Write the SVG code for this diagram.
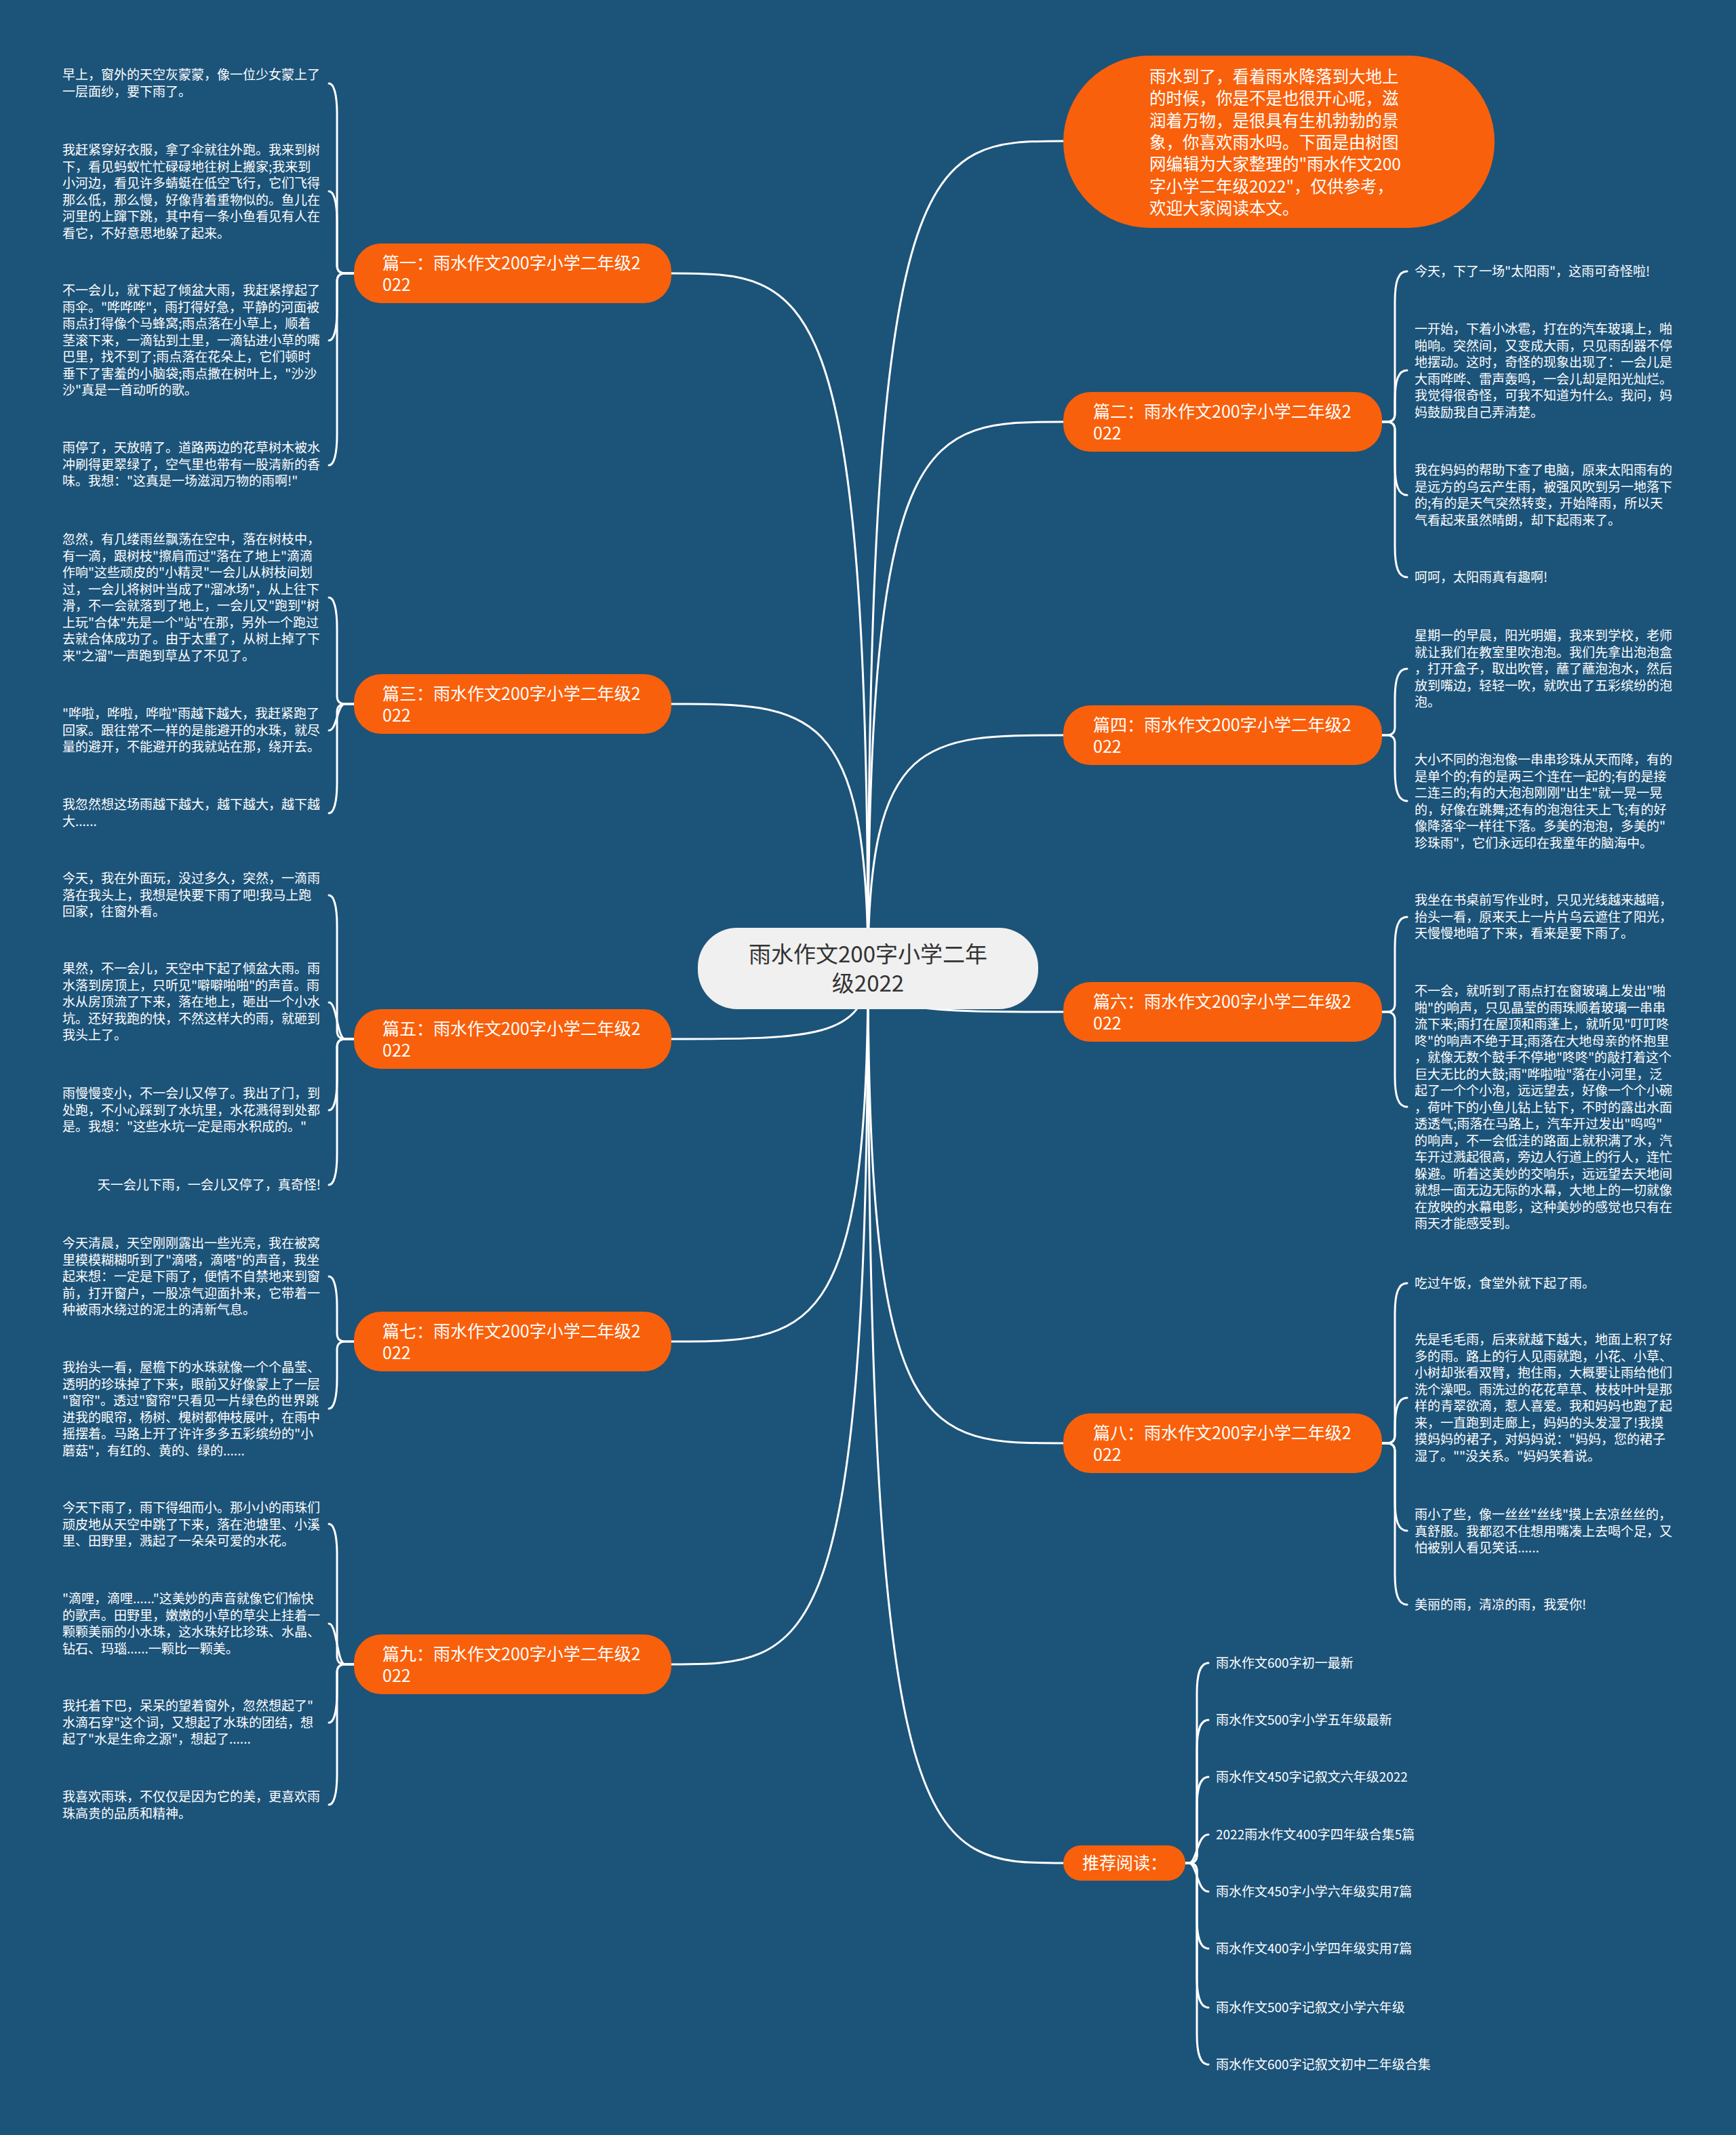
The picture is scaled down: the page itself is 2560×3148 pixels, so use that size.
<svg xmlns="http://www.w3.org/2000/svg" width="2560" height="3148" viewBox="0 0 2560 3148">
<style>
text{font-family:"Noto Sans CJK SC","Noto Sans",sans-serif;fill:#fff}
.lf{font-size:19px}
.br{font-size:25px}
.bub{font-size:24.5px}
.ctr{font-size:33px;fill:#333}
.e{fill:none;stroke:#fff;stroke-width:3;stroke-linecap:round}
.on{fill:#f9600b}
</style>
<rect width="2560" height="3148" fill="#1c5379"/>
<g id="connectors">
<path class="e" d="M1280,1428 C1280,403 1193,403 990,403"/>
<path class="e" d="M1280,1428 C1280,1038 1193,1038 990,1038"/>
<path class="e" d="M1280,1428 C1280,1532 1193,1532 990,1532"/>
<path class="e" d="M1280,1428 C1280,1978 1193,1978 990,1978"/>
<path class="e" d="M1280,1428 C1280,2454 1193,2454 990,2454"/>
<path class="e" d="M1280,1428 C1280,208 1366,208 1568,208"/>
<path class="e" d="M1280,1428 C1280,622 1366,622 1568,622"/>
<path class="e" d="M1280,1428 C1280,1084 1366,1084 1568,1084"/>
<path class="e" d="M1280,1428 C1280,1492 1366,1492 1568,1492"/>
<path class="e" d="M1280,1428 C1280,2128 1366,2128 1568,2128"/>
<path class="e" d="M1280,1428 C1280,2747 1366,2747 1568,2747"/>
<!-- 篇一 -->
<path class="e" d="M522,403 L509,403 Q497,403 497,391 L497,168 C497,138 492,123 485,123"/>
<path class="e" d="M522,403 L509,403 Q497,403 497,391 L497,327 C497,297 492,282 485,282"/>
<path class="e" d="M522,403 L509,403 Q497,403 497,415 L497,457 C497,487 492,502 485,502"/>
<path class="e" d="M522,403 L509,403 Q497,403 497,415 L497,641 C497,671 492,686 485,686"/>
<!-- 篇三 -->
<path class="e" d="M522,1038 L509,1038 Q497,1038 497,1026 L497,926 C497,896 492,881 485,881"/>
<path class="e" d="M522,1038 L509,1038 C497,1038 497,1077 485,1077"/>
<path class="e" d="M522,1038 L509,1038 Q497,1038 497,1050 L497,1154 C497,1184 492,1199 485,1199"/>
<!-- 篇五 -->
<path class="e" d="M522,1532 L509,1532 Q497,1532 497,1520 L497,1365 C497,1335 492,1320 485,1320"/>
<path class="e" d="M522,1532 L509,1532 C497,1532 497,1478 485,1478"/>
<path class="e" d="M522,1532 L509,1532 Q497,1532 497,1544 L497,1592 C497,1622 492,1637 485,1637"/>
<path class="e" d="M522,1532 L509,1532 Q497,1532 497,1544 L497,1702 C497,1732 492,1747 485,1747"/>
<!-- 篇七 -->
<path class="e" d="M522,1978 L509,1978 Q497,1978 497,1966 L497,1927 C497,1897 492,1882 485,1882"/>
<path class="e" d="M522,1978 L509,1978 Q497,1978 497,1990 L497,2032 C497,2062 492,2077 485,2077"/>
<!-- 篇九 -->
<path class="e" d="M522,2454 L509,2454 Q497,2454 497,2442 L497,2292 C497,2262 492,2247 485,2247"/>
<path class="e" d="M522,2454 L509,2454 C497,2454 497,2394 485,2394"/>
<path class="e" d="M522,2454 L509,2454 Q497,2454 497,2466 L497,2495 C497,2525 492,2540 485,2540"/>
<path class="e" d="M522,2454 L509,2454 Q497,2454 497,2466 L497,2616 C497,2646 492,2661 485,2661"/>
<!-- 篇二 -->
<path class="e" d="M2038,622 L2045,622 Q2057,622 2057,610 L2057,445 C2057,415 2062,400 2075,400"/>
<path class="e" d="M2038,622 L2045,622 Q2057,622 2057,610 L2057,591 C2057,561 2062,546 2075,546"/>
<path class="e" d="M2038,622 L2045,622 Q2057,622 2057,634 L2057,685 C2057,715 2062,730 2075,730"/>
<path class="e" d="M2038,622 L2045,622 Q2057,622 2057,634 L2057,806 C2057,836 2062,851 2075,851"/>
<!-- 篇四 -->
<path class="e" d="M2038,1084 L2045,1084 Q2057,1084 2057,1072 L2057,1031 C2057,1001 2062,986 2075,986"/>
<path class="e" d="M2038,1084 L2045,1084 Q2057,1084 2057,1096 L2057,1136 C2057,1166 2062,1181 2075,1181"/>
<!-- 篇六 -->
<path class="e" d="M2038,1492 L2045,1492 Q2057,1492 2057,1480 L2057,1397 C2057,1367 2062,1352 2075,1352"/>
<path class="e" d="M2038,1492 L2045,1492 Q2057,1492 2057,1504 L2057,1587 C2057,1617 2062,1632 2075,1632"/>
<!-- 篇八 -->
<path class="e" d="M2038,2128 L2045,2128 Q2057,2128 2057,2116 L2057,1937 C2057,1907 2062,1892 2075,1892"/>
<path class="e" d="M2038,2128 L2045,2128 Q2057,2128 2057,2116 L2057,2106 C2057,2076 2062,2061 2075,2061"/>
<path class="e" d="M2038,2128 L2045,2128 Q2057,2128 2057,2140 L2057,2212 C2057,2242 2062,2257 2075,2257"/>
<path class="e" d="M2038,2128 L2045,2128 Q2057,2128 2057,2140 L2057,2321 C2057,2351 2062,2366 2075,2366"/>
<!-- 推荐阅读 -->
<path class="e" d="M1747,2747 L1753,2747 Q1765,2747 1765,2735 L1765,2497 C1765,2467 1770,2452 1782,2452"/>
<path class="e" d="M1747,2747 L1753,2747 Q1765,2747 1765,2735 L1765,2581 C1765,2551 1770,2536 1782,2536"/>
<path class="e" d="M1747,2747 L1753,2747 Q1765,2747 1765,2735 L1765,2665 C1765,2635 1770,2620 1782,2620"/>
<path class="e" d="M1747,2747 L1753,2747 C1765,2747 1765,2705 1782,2705"/>
<path class="e" d="M1747,2747 L1753,2747 C1765,2747 1765,2789 1782,2789"/>
<path class="e" d="M1747,2747 L1753,2747 Q1765,2747 1765,2759 L1765,2828 C1765,2858 1770,2873 1782,2873"/>
<path class="e" d="M1747,2747 L1753,2747 Q1765,2747 1765,2759 L1765,2915 C1765,2945 1770,2960 1782,2960"/>
<path class="e" d="M1747,2747 L1753,2747 Q1765,2747 1765,2759 L1765,2999 C1765,3029 1770,3044 1782,3044"/>
</g>

<g id="center">
<rect x="1029" y="1368" width="502" height="120" rx="58" fill="#f0f0f0"/>
<text class="ctr" x="1280" y="1419" text-anchor="middle">雨水作文200字小学二年</text>
<text class="ctr" x="1280" y="1462" text-anchor="middle">级2022</text>
</g>

<g id="intro">
<rect class="on" x="1568" y="82" width="636" height="254" rx="127"/>
<text class="bub" x="1695" y="122">
<tspan x="1695">雨水到了，看着雨水降落到大地上</tspan>
<tspan x="1695" dy="32.3">的时候，你是不是也很开心呢，滋</tspan>
<tspan x="1695" dy="32.3">润着万物，是很具有生机勃勃的景</tspan>
<tspan x="1695" dy="32.3">象，你喜欢雨水吗。下面是由树图</tspan>
<tspan x="1695" dy="32.3">网编辑为大家整理的"雨水作文200</tspan>
<tspan x="1695" dy="32.3">字小学二年级2022"，仅供参考，</tspan>
<tspan x="1695" dy="32.3">欢迎大家阅读本文。</tspan>
</text>
</g>

<g id="p1">
<rect class="on" x="522" y="359" width="468" height="88" rx="40"/>
<text class="br" x="564" y="397"><tspan x="564">篇一：雨水作文200字小学二年级2</tspan><tspan x="564" dy="32">022</tspan></text>
</g>
<g id="p1-leaves">
<text class="lf" x="92" y="117"><tspan x="92">早上，窗外的天空灰蒙蒙，像一位少女蒙上了</tspan><tspan x="92" dy="24.5">一层面纱，要下雨了。</tspan></text>
<text class="lf" x="92" y="228"><tspan x="92">我赶紧穿好衣服，拿了伞就往外跑。我来到树</tspan><tspan x="92" dy="24.5">下，看见蚂蚁忙忙碌碌地往树上搬家;我来到</tspan><tspan x="92" dy="24.5">小河边，看见许多蜻蜓在低空飞行，它们飞得</tspan><tspan x="92" dy="24.5">那么低，那么慢，好像背着重物似的。鱼儿在</tspan><tspan x="92" dy="24.5">河里的上蹿下跳，其中有一条小鱼看见有人在</tspan><tspan x="92" dy="24.5">看它，不好意思地躲了起来。</tspan></text>
<text class="lf" x="92" y="435"><tspan x="92">不一会儿，就下起了倾盆大雨，我赶紧撑起了</tspan><tspan x="92" dy="24.5">雨伞。"哗哗哗"，雨打得好急，平静的河面被</tspan><tspan x="92" dy="24.5">雨点打得像个马蜂窝;雨点落在小草上，顺着</tspan><tspan x="92" dy="24.5">茎滚下来，一滴钻到土里，一滴钻进小草的嘴</tspan><tspan x="92" dy="24.5">巴里，找不到了;雨点落在花朵上，它们顿时</tspan><tspan x="92" dy="24.5">垂下了害羞的小脑袋;雨点撒在树叶上，"沙沙</tspan><tspan x="92" dy="24.5">沙"真是一首动听的歌。</tspan></text>
<text class="lf" x="92" y="667"><tspan x="92">雨停了，天放晴了。道路两边的花草树木被水</tspan><tspan x="92" dy="24.5">冲刷得更翠绿了，空气里也带有一股清新的香</tspan><tspan x="92" dy="24.5">味。我想："这真是一场滋润万物的雨啊!"</tspan></text>
</g>

<g id="p3">
<rect class="on" x="522" y="994" width="468" height="88" rx="40"/>
<text class="br" x="564" y="1032"><tspan x="564">篇三：雨水作文200字小学二年级2</tspan><tspan x="564" dy="32">022</tspan></text>
</g>
<g id="p3-leaves">
<text class="lf" x="92" y="802"><tspan x="92">忽然，有几缕雨丝飘荡在空中，落在树枝中，</tspan><tspan x="92" dy="24.5">有一滴，跟树枝"擦肩而过"落在了地上"滴滴</tspan><tspan x="92" dy="24.5">作响"这些顽皮的"小精灵"一会儿从树枝间划</tspan><tspan x="92" dy="24.5">过，一会儿将树叶当成了"溜冰场"，从上往下</tspan><tspan x="92" dy="24.5">滑，不一会就落到了地上，一会儿又"跑到"树</tspan><tspan x="92" dy="24.5">上玩"合体"先是一个"站"在那，另外一个跑过</tspan><tspan x="92" dy="24.5">去就合体成功了。由于太重了，从树上掉了下</tspan><tspan x="92" dy="24.5">来"之溜"一声跑到草丛了不见了。</tspan></text>
<text class="lf" x="92" y="1059"><tspan x="92">"哗啦，哗啦，哗啦"雨越下越大，我赶紧跑了</tspan><tspan x="92" dy="24.5">回家。跟往常不一样的是能避开的水珠，就尽</tspan><tspan x="92" dy="24.5">量的避开，不能避开的我就站在那，绕开去。</tspan></text>
<text class="lf" x="92" y="1193"><tspan x="92">我忽然想这场雨越下越大，越下越大，越下越</tspan><tspan x="92" dy="24.5">大......</tspan></text>
</g>

<g id="p5">
<rect class="on" x="522" y="1488" width="468" height="88" rx="40"/>
<text class="br" x="564" y="1526"><tspan x="564">篇五：雨水作文200字小学二年级2</tspan><tspan x="564" dy="32">022</tspan></text>
</g>
<g id="p5-leaves">
<text class="lf" x="92" y="1302"><tspan x="92">今天，我在外面玩，没过多久，突然，一滴雨</tspan><tspan x="92" dy="24.5">落在我头上，我想是快要下雨了吧!我马上跑</tspan><tspan x="92" dy="24.5">回家，往窗外看。</tspan></text>
<text class="lf" x="92" y="1435"><tspan x="92">果然，不一会儿，天空中下起了倾盆大雨。雨</tspan><tspan x="92" dy="24.5">水落到房顶上，只听见"噼噼啪啪"的声音。雨</tspan><tspan x="92" dy="24.5">水从房顶流了下来，落在地上，砸出一个小水</tspan><tspan x="92" dy="24.5">坑。还好我跑的快，不然这样大的雨，就砸到</tspan><tspan x="92" dy="24.5">我头上了。</tspan></text>
<text class="lf" x="92" y="1619"><tspan x="92">雨慢慢变小，不一会儿又停了。我出了门，到</tspan><tspan x="92" dy="24.5">处跑，不小心踩到了水坑里，水花溅得到处都</tspan><tspan x="92" dy="24.5">是。我想："这些水坑一定是雨水积成的。"</tspan></text>
<text class="lf" x="473" y="1754" text-anchor="end">天一会儿下雨，一会儿又停了，真奇怪!</text>
</g>

<g id="p7">
<rect class="on" x="522" y="1934" width="468" height="88" rx="40"/>
<text class="br" x="564" y="1972"><tspan x="564">篇七：雨水作文200字小学二年级2</tspan><tspan x="564" dy="32">022</tspan></text>
</g>
<g id="p7-leaves">
<text class="lf" x="92" y="1840"><tspan x="92">今天清晨，天空刚刚露出一些光亮，我在被窝</tspan><tspan x="92" dy="24.5">里模模糊糊听到了"滴嗒，滴嗒"的声音，我坐</tspan><tspan x="92" dy="24.5">起来想：一定是下雨了，便情不自禁地来到窗</tspan><tspan x="92" dy="24.5">前，打开窗户，一股凉气迎面扑来，它带着一</tspan><tspan x="92" dy="24.5">种被雨水绕过的泥土的清新气息。</tspan></text>
<text class="lf" x="92" y="2023"><tspan x="92">我抬头一看，屋檐下的水珠就像一个个晶莹、</tspan><tspan x="92" dy="24.5">透明的珍珠掉了下来，眼前又好像蒙上了一层</tspan><tspan x="92" dy="24.5">"窗帘"。透过"窗帘"只看见一片绿色的世界跳</tspan><tspan x="92" dy="24.5">进我的眼帘，杨树、槐树都伸枝展叶，在雨中</tspan><tspan x="92" dy="24.5">摇摆着。马路上开了许许多多五彩缤纷的"小</tspan><tspan x="92" dy="24.5">蘑菇"，有红的、黄的、绿的......</tspan></text>
</g>

<g id="p9">
<rect class="on" x="522" y="2410" width="468" height="88" rx="40"/>
<text class="br" x="564" y="2448"><tspan x="564">篇九：雨水作文200字小学二年级2</tspan><tspan x="564" dy="32">022</tspan></text>
</g>
<g id="p9-leaves">
<text class="lf" x="92" y="2230"><tspan x="92">今天下雨了，雨下得细而小。那小小的雨珠们</tspan><tspan x="92" dy="24.5">顽皮地从天空中跳了下来，落在池塘里、小溪</tspan><tspan x="92" dy="24.5">里、田野里，溅起了一朵朵可爱的水花。</tspan></text>
<text class="lf" x="92" y="2364"><tspan x="92">"滴哩，滴哩......"这美妙的声音就像它们愉快</tspan><tspan x="92" dy="24.5">的歌声。田野里，嫩嫩的小草的草尖上挂着一</tspan><tspan x="92" dy="24.5">颗颗美丽的小水珠，这水珠好比珍珠、水晶、</tspan><tspan x="92" dy="24.5">钻石、玛瑙......一颗比一颗美。</tspan></text>
<text class="lf" x="92" y="2522"><tspan x="92">我托着下巴，呆呆的望着窗外，忽然想起了"</tspan><tspan x="92" dy="24.5">水滴石穿"这个词，又想起了水珠的团结，想</tspan><tspan x="92" dy="24.5">起了"水是生命之源"，想起了......</tspan></text>
<text class="lf" x="92" y="2656"><tspan x="92">我喜欢雨珠，不仅仅是因为它的美，更喜欢雨</tspan><tspan x="92" dy="24.5">珠高贵的品质和精神。</tspan></text>
</g>

<g id="p2">
<rect class="on" x="1568" y="578" width="470" height="88" rx="40"/>
<text class="br" x="1612" y="616"><tspan x="1612">篇二：雨水作文200字小学二年级2</tspan><tspan x="1612" dy="32">022</tspan></text>
</g>
<g id="p2-leaves">
<text class="lf" x="2086" y="407">今天，下了一场"太阳雨"，这雨可奇怪啦!</text>
<text class="lf" x="2086" y="492"><tspan x="2086">一开始，下着小冰雹，打在的汽车玻璃上，啪</tspan><tspan x="2086" dy="24.5">啪响。突然间，又变成大雨，只见雨刮器不停</tspan><tspan x="2086" dy="24.5">地摆动。这时，奇怪的现象出现了：一会儿是</tspan><tspan x="2086" dy="24.5">大雨哗哗、雷声轰鸣，一会儿却是阳光灿烂。</tspan><tspan x="2086" dy="24.5">我觉得很奇怪，可我不知道为什么。我问，妈</tspan><tspan x="2086" dy="24.5">妈鼓励我自己弄清楚。</tspan></text>
<text class="lf" x="2086" y="700"><tspan x="2086">我在妈妈的帮助下查了电脑，原来太阳雨有的</tspan><tspan x="2086" dy="24.5">是远方的乌云产生雨，被强风吹到另一地落下</tspan><tspan x="2086" dy="24.5">的;有的是天气突然转变，开始降雨，所以天</tspan><tspan x="2086" dy="24.5">气看起来虽然晴朗，却下起雨来了。</tspan></text>
<text class="lf" x="2086" y="858">呵呵，太阳雨真有趣啊!</text>
</g>

<g id="p4">
<rect class="on" x="1568" y="1040" width="470" height="88" rx="40"/>
<text class="br" x="1612" y="1078"><tspan x="1612">篇四：雨水作文200字小学二年级2</tspan><tspan x="1612" dy="32">022</tspan></text>
</g>
<g id="p4-leaves">
<text class="lf" x="2086" y="944"><tspan x="2086">星期一的早晨，阳光明媚，我来到学校，老师</tspan><tspan x="2086" dy="24.5">就让我们在教室里吹泡泡。我们先拿出泡泡盒</tspan><tspan x="2086" dy="24.5">，打开盒子，取出吹管，蘸了蘸泡泡水，然后</tspan><tspan x="2086" dy="24.5">放到嘴边，轻轻一吹，就吹出了五彩缤纷的泡</tspan><tspan x="2086" dy="24.5">泡。</tspan></text>
<text class="lf" x="2086" y="1127"><tspan x="2086">大小不同的泡泡像一串串珍珠从天而降，有的</tspan><tspan x="2086" dy="24.5">是单个的;有的是两三个连在一起的;有的是接</tspan><tspan x="2086" dy="24.5">二连三的;有的大泡泡刚刚"出生"就一晃一晃</tspan><tspan x="2086" dy="24.5">的，好像在跳舞;还有的泡泡往天上飞;有的好</tspan><tspan x="2086" dy="24.5">像降落伞一样往下落。多美的泡泡，多美的"</tspan><tspan x="2086" dy="24.5">珍珠雨"，它们永远印在我童年的脑海中。</tspan></text>
</g>

<g id="p6">
<rect class="on" x="1568" y="1448" width="470" height="88" rx="40"/>
<text class="br" x="1612" y="1486"><tspan x="1612">篇六：雨水作文200字小学二年级2</tspan><tspan x="1612" dy="32">022</tspan></text>
</g>
<g id="p6-leaves">
<text class="lf" x="2086" y="1334"><tspan x="2086">我坐在书桌前写作业时，只见光线越来越暗，</tspan><tspan x="2086" dy="24.5">抬头一看，原来天上一片片乌云遮住了阳光，</tspan><tspan x="2086" dy="24.5">天慢慢地暗了下来，看来是要下雨了。</tspan></text>
<text class="lf" x="2086" y="1468"><tspan x="2086">不一会，就听到了雨点打在窗玻璃上发出"啪</tspan><tspan x="2086" dy="24.5">啪"的响声，只见晶莹的雨珠顺着玻璃一串串</tspan><tspan x="2086" dy="24.5">流下来;雨打在屋顶和雨蓬上，就听见"叮叮咚</tspan><tspan x="2086" dy="24.5">咚"的响声不绝于耳;雨落在大地母亲的怀抱里</tspan><tspan x="2086" dy="24.5">，就像无数个鼓手不停地"咚咚"的敲打着这个</tspan><tspan x="2086" dy="24.5">巨大无比的大鼓;雨"哗啦啦"落在小河里，泛</tspan><tspan x="2086" dy="24.5">起了一个个小泡，远远望去，好像一个个小碗</tspan><tspan x="2086" dy="24.5">，荷叶下的小鱼儿钻上钻下，不时的露出水面</tspan><tspan x="2086" dy="24.5">透透气;雨落在马路上，汽车开过发出"呜呜"</tspan><tspan x="2086" dy="24.5">的响声，不一会低洼的路面上就积满了水，汽</tspan><tspan x="2086" dy="24.5">车开过溅起很高，旁边人行道上的行人，连忙</tspan><tspan x="2086" dy="24.5">躲避。听着这美妙的交响乐，远远望去天地间</tspan><tspan x="2086" dy="24.5">就想一面无边无际的水幕，大地上的一切就像</tspan><tspan x="2086" dy="24.5">在放映的水幕电影，这种美妙的感觉也只有在</tspan><tspan x="2086" dy="24.5">雨天才能感受到。</tspan></text>
</g>

<g id="p8">
<rect class="on" x="1568" y="2084" width="470" height="88" rx="40"/>
<text class="br" x="1612" y="2122"><tspan x="1612">篇八：雨水作文200字小学二年级2</tspan><tspan x="1612" dy="32">022</tspan></text>
</g>
<g id="p8-leaves">
<text class="lf" x="2086" y="1899">吃过午饭，食堂外就下起了雨。</text>
<text class="lf" x="2086" y="1982"><tspan x="2086">先是毛毛雨，后来就越下越大，地面上积了好</tspan><tspan x="2086" dy="24.5">多的雨。路上的行人见雨就跑，小花、小草、</tspan><tspan x="2086" dy="24.5">小树却张看双臂，抱住雨，大概要让雨给他们</tspan><tspan x="2086" dy="24.5">洗个澡吧。雨洗过的花花草草、枝枝叶叶是那</tspan><tspan x="2086" dy="24.5">样的青翠欲滴，惹人喜爱。我和妈妈也跑了起</tspan><tspan x="2086" dy="24.5">来，一直跑到走廊上，妈妈的头发湿了!我摸</tspan><tspan x="2086" dy="24.5">摸妈妈的裙子，对妈妈说："妈妈，您的裙子</tspan><tspan x="2086" dy="24.5">湿了。""没关系。"妈妈笑着说。</tspan></text>
<text class="lf" x="2086" y="2240"><tspan x="2086">雨小了些，像一丝丝"丝线"摸上去凉丝丝的，</tspan><tspan x="2086" dy="24.5">真舒服。我都忍不住想用嘴凑上去喝个足，又</tspan><tspan x="2086" dy="24.5">怕被别人看见笑话......</tspan></text>
<text class="lf" x="2086" y="2373">美丽的雨，清凉的雨，我爱你!</text>
</g>

<g id="rec">
<rect class="on" x="1568" y="2721" width="180" height="52" rx="26"/>
<text class="br" x="1596" y="2756">推荐阅读：</text>
</g>
<g id="rec-leaves">
<text class="lf" x="1793" y="2459">雨水作文600字初一最新</text>
<text class="lf" x="1793" y="2543">雨水作文500字小学五年级最新</text>
<text class="lf" x="1793" y="2627">雨水作文450字记叙文六年级2022</text>
<text class="lf" x="1793" y="2712">2022雨水作文400字四年级合集5篇</text>
<text class="lf" x="1793" y="2796">雨水作文450字小学六年级实用7篇</text>
<text class="lf" x="1793" y="2880">雨水作文400字小学四年级实用7篇</text>
<text class="lf" x="1793" y="2967">雨水作文500字记叙文小学六年级</text>
<text class="lf" x="1793" y="3051">雨水作文600字记叙文初中二年级合集</text>
</g>
</svg>
